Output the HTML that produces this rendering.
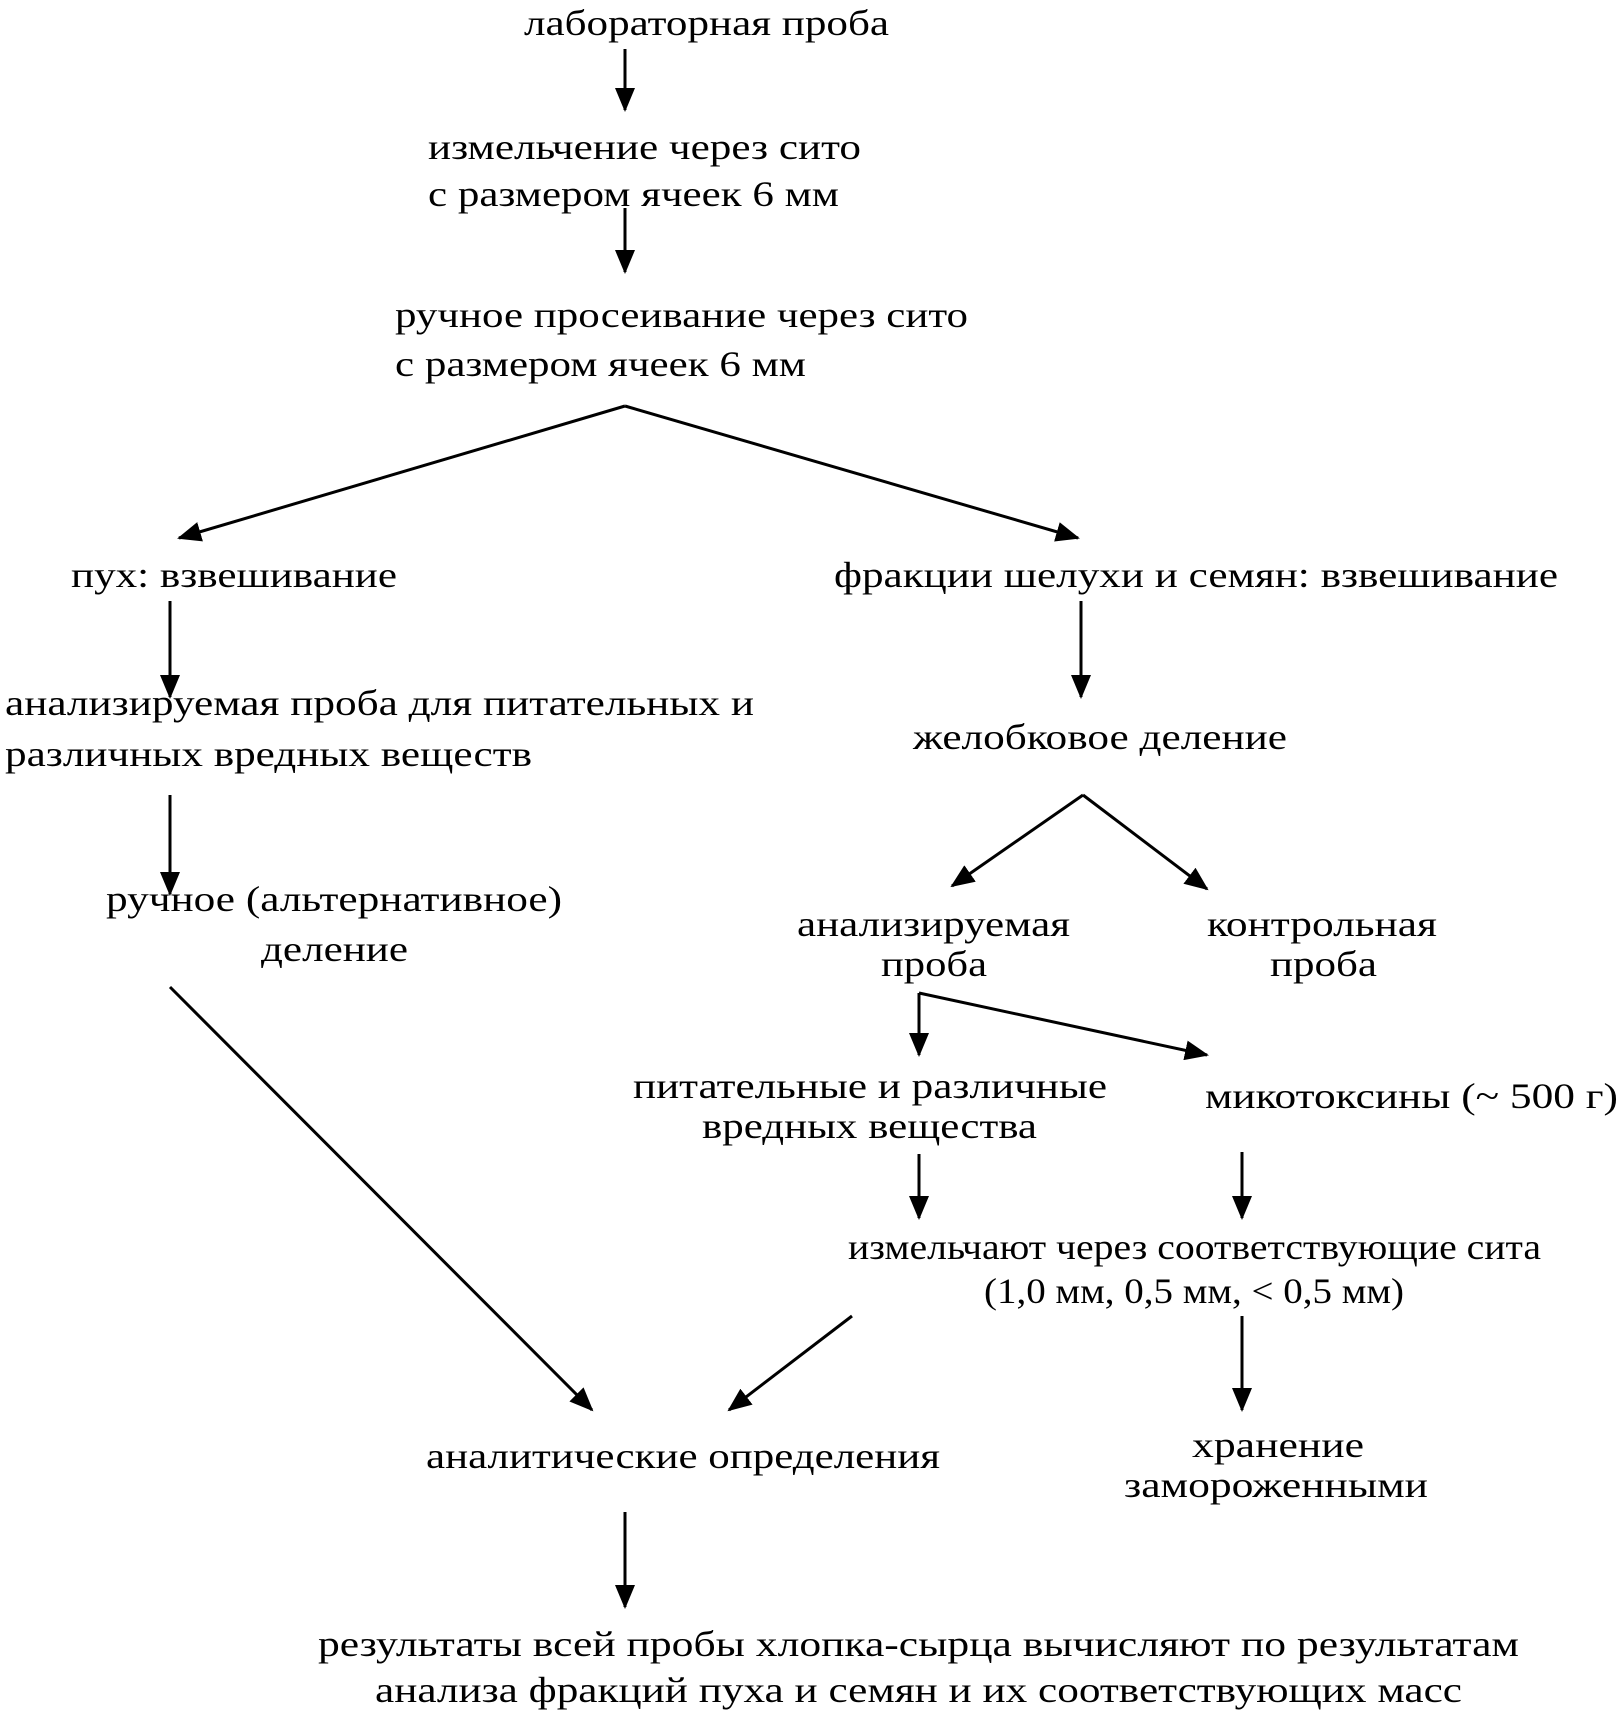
<!DOCTYPE html>
<html><head><meta charset="utf-8"><style>html,body{margin:0;padding:0;background:#fff}svg{display:block}</style></head>
<body>
<svg width="1623" height="1722" viewBox="0 0 1623 1722" xmlns="http://www.w3.org/2000/svg">
<defs><marker id="a" markerWidth="8" markerHeight="8" refX="7" refY="4" orient="auto" markerUnits="userSpaceOnUse" viewBox="0 0 8 8"><path d="M0,0 L8,4 L0,8 z" fill="#000"/></marker>
<marker id="b" markerWidth="24" markerHeight="20" refX="22" refY="10" orient="auto" markerUnits="userSpaceOnUse"><path d="M0,0 L24,10 L0,20 z" fill="#000"/></marker></defs>
<g font-family="Liberation Serif, serif" font-size="36" fill="#000" lengthAdjust="spacingAndGlyphs">
<text x="524" y="35" textLength="365" lengthAdjust="spacingAndGlyphs">лабораторная проба</text>
<text x="428" y="159" textLength="433" lengthAdjust="spacingAndGlyphs">измельчение через сито</text>
<text x="428" y="206" textLength="411" lengthAdjust="spacingAndGlyphs">с размером ячеек 6 мм</text>
<text x="395" y="327" textLength="573" lengthAdjust="spacingAndGlyphs">ручное просеивание через сито</text>
<text x="395" y="376" textLength="411" lengthAdjust="spacingAndGlyphs">с размером ячеек 6 мм</text>
<text x="71" y="587" textLength="326" lengthAdjust="spacingAndGlyphs">пух: взвешивание</text>
<text x="834" y="587" textLength="724" lengthAdjust="spacingAndGlyphs">фракции шелухи и семян: взвешивание</text>
<text x="5" y="715" textLength="749" lengthAdjust="spacingAndGlyphs">анализируемая проба для питательных и</text>
<text x="5" y="766" textLength="527" lengthAdjust="spacingAndGlyphs">различных вредных веществ</text>
<text x="913" y="749" textLength="374" lengthAdjust="spacingAndGlyphs">желобковое деление</text>
<text x="106" y="911" textLength="456" lengthAdjust="spacingAndGlyphs">ручное (альтернативное)</text>
<text x="261" y="961" textLength="147" lengthAdjust="spacingAndGlyphs">деление</text>
<text x="797" y="936" textLength="273" lengthAdjust="spacingAndGlyphs">анализируемая</text>
<text x="881" y="976" textLength="106" lengthAdjust="spacingAndGlyphs">проба</text>
<text x="1207" y="936" textLength="230" lengthAdjust="spacingAndGlyphs">контрольная</text>
<text x="1270" y="976" textLength="107" lengthAdjust="spacingAndGlyphs">проба</text>
<text x="633" y="1098" textLength="474" lengthAdjust="spacingAndGlyphs">питательные и различные</text>
<text x="702" y="1138" textLength="335" lengthAdjust="spacingAndGlyphs">вредных вещества</text>
<text x="1205" y="1108" textLength="413" lengthAdjust="spacingAndGlyphs">микотоксины (~ 500 г)</text>
<text x="848" y="1259" textLength="693" lengthAdjust="spacingAndGlyphs">измельчают через соответствующие сита</text>
<text x="984" y="1303" textLength="420" lengthAdjust="spacingAndGlyphs">(1,0 мм, 0,5 мм, &lt; 0,5 мм)</text>
<text x="426" y="1468" textLength="514" lengthAdjust="spacingAndGlyphs">аналитические определения</text>
<text x="1192" y="1457" textLength="172" lengthAdjust="spacingAndGlyphs">хранение</text>
<text x="1124" y="1497" textLength="304" lengthAdjust="spacingAndGlyphs">замороженными</text>
<text x="318" y="1656" textLength="1201" lengthAdjust="spacingAndGlyphs">результаты всей пробы хлопка-сырца вычисляют по результатам</text>
<text x="375" y="1702" textLength="1087" lengthAdjust="spacingAndGlyphs">анализа фракций пуха и семян и их соответствующих масс</text>
</g>
<g stroke="#000" stroke-width="3" fill="none" marker-end="url(#b)">
<line x1="625" y1="49" x2="625" y2="110"/>
<line x1="625" y1="208" x2="625" y2="272"/>
<polyline points="625,406 179,538" />
<polyline points="625,406 1078,538"/>
<line x1="170" y1="601" x2="170" y2="697"/>
<line x1="1081" y1="601" x2="1081" y2="697"/>
<line x1="170" y1="795" x2="170" y2="894"/>
<line x1="1083" y1="795" x2="952" y2="886"/>
<line x1="1083" y1="795" x2="1207" y2="889"/>
<line x1="170" y1="987" x2="592" y2="1410"/>
<line x1="919" y1="993" x2="919" y2="1055"/>
<line x1="919" y1="993" x2="1207" y2="1055"/>
<line x1="919" y1="1154" x2="919" y2="1218"/>
<line x1="1242" y1="1152" x2="1242" y2="1218"/>
<line x1="852" y1="1316" x2="729" y2="1410"/>
<line x1="1242" y1="1316" x2="1242" y2="1410"/>
<line x1="625" y1="1512" x2="625" y2="1607"/>
</g>
</svg>
</body></html>
